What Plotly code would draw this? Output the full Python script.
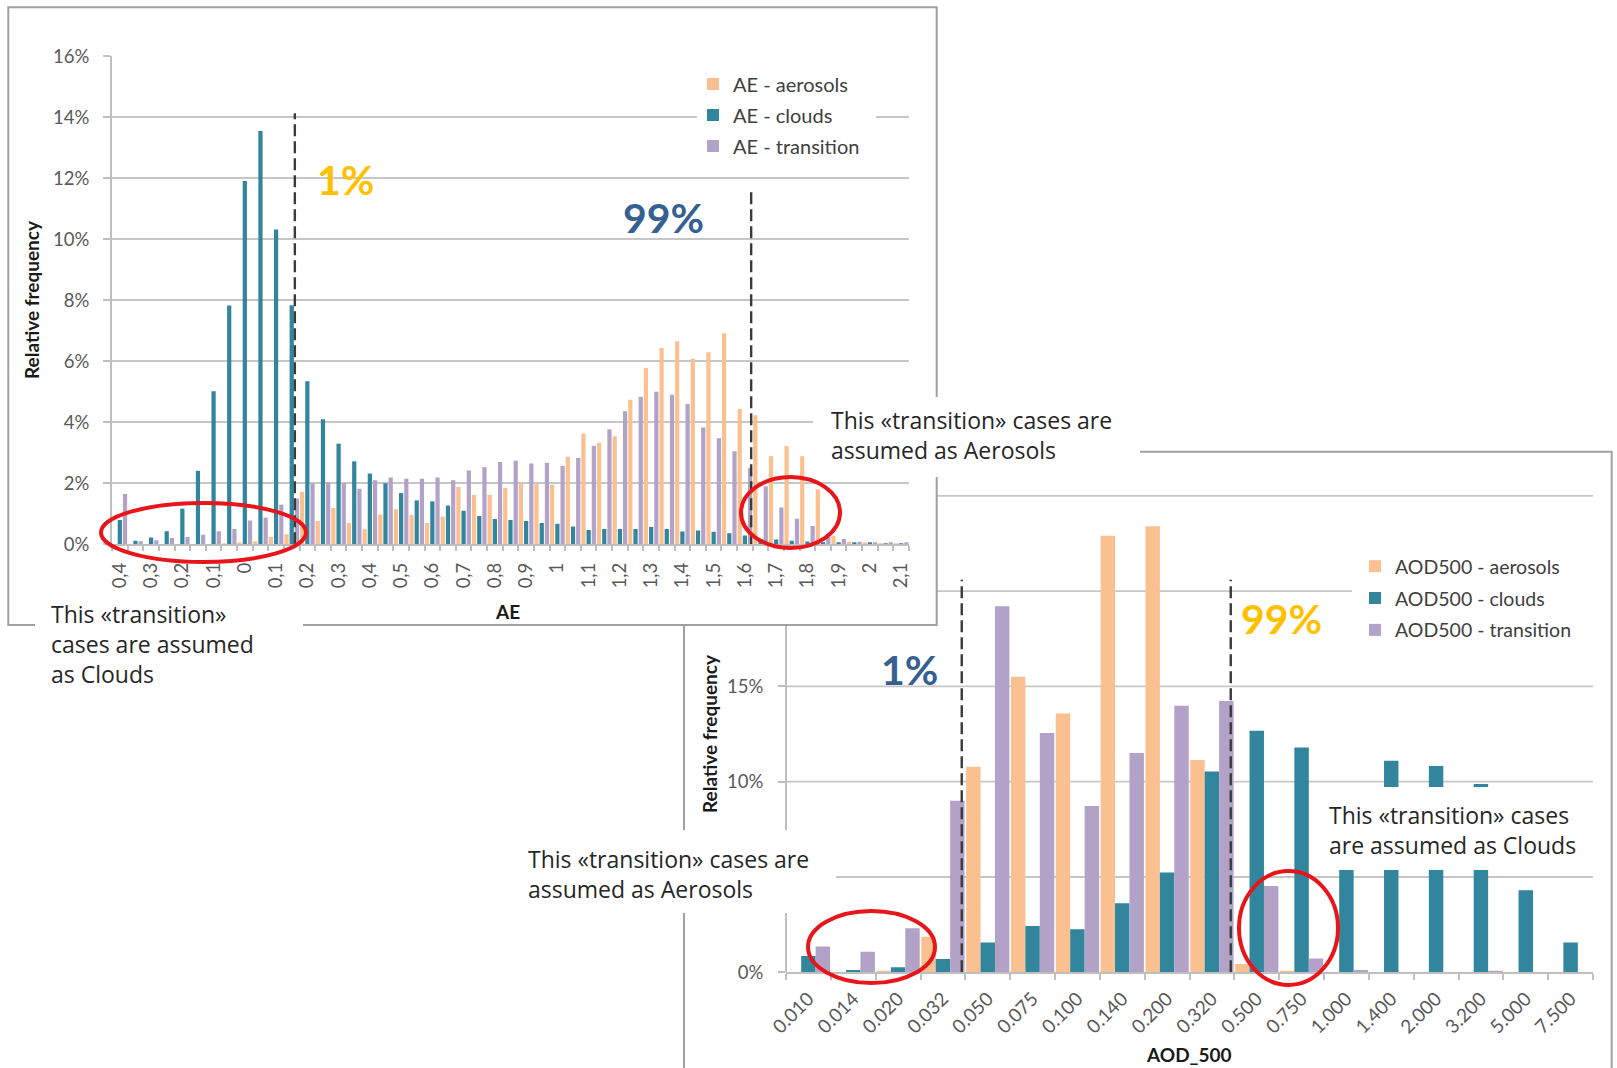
import plotly.graph_objects as go

# ---------------------------------------------------------------------------
# Data
# ---------------------------------------------------------------------------
# Angstrom exponent histogram (bins of 0.05)
AE_BINS = [
    "-0.40", "-0.35", "-0.30", "-0.25", "-0.20", "-0.15", "-0.10", "-0.05",
    "0.00", "0.05", "0.10", "0.15", "0.20", "0.25", "0.30", "0.35", "0.40",
    "0.45", "0.50", "0.55", "0.60", "0.65", "0.70", "0.75", "0.80", "0.85",
    "0.90", "0.95", "1.00", "1.05", "1.10", "1.15", "1.20", "1.25", "1.30",
    "1.35", "1.40", "1.45", "1.50", "1.55", "1.60", "1.65", "1.70", "1.75",
    "1.80", "1.85", "1.90", "1.95", "2.00", "2.05", "2.10",
]
AE_TICKTEXT = [
    "0,4", "", "0,3", "", "0,2", "", "0,1", "", "0", "", "0,1", "", "0,2", "",
    "0,3", "", "0,4", "", "0,5", "", "0,6", "", "0,7", "", "0,8", "", "0,9", "",
    "1", "", "1,1", "", "1,2", "", "1,3", "", "1,4", "", "1,5", "", "1,6", "",
    "1,7", "", "1,8", "", "1,9", "", "2", "", "2,1",
]
AE_AEROSOLS = [
    0, 0, 0, 0, 0, 0, 0, 0.02, 0.05, 0.10, 0.24, 0.33, 1.72, 0.76, 1.19, 0.70,
    0.49, 0.98, 1.15, 0.97, 0.70, 0.91, 1.88, 1.62, 1.62, 1.85, 2.00, 2.00,
    1.95, 2.87, 3.63, 3.33, 3.54, 4.74, 5.78, 6.44, 6.66, 6.08, 6.30, 6.92,
    4.44, 4.23, 2.89, 3.22, 2.89, 1.80, 0.27, 0.08, 0.05, 0.03, 0.02,
]
AE_CLOUDS = [
    0.80, 0.12, 0.22, 0.43, 1.17, 2.41, 5.02, 7.83, 11.91, 13.55, 10.32, 7.84,
    5.35, 4.10, 3.30, 2.72, 2.32, 2.00, 1.68, 1.44, 1.41, 1.27, 1.10, 0.93,
    0.83, 0.80, 0.76, 0.70, 0.67, 0.58, 0.47, 0.50, 0.50, 0.50, 0.57, 0.50,
    0.42, 0.45, 0.41, 0.36, 0.29, 0.17, 0.16, 0.12, 0.09, 0.07, 0.05, 0.04,
    0.04, 0.03, 0.03,
]
AE_TRANSITION = [
    1.65, 0.10, 0.13, 0.21, 0.24, 0.31, 0.43, 0.50, 0.78, 0.88, 1.30, 1.50,
    2.00, 2.03, 2.00, 1.82, 2.10, 2.19, 2.15, 2.15, 2.19, 2.10, 2.42, 2.53,
    2.70, 2.74, 2.65, 2.67, 2.57, 2.83, 3.23, 3.77, 4.36, 4.84, 5.00, 4.90,
    4.60, 3.83, 3.48, 3.05, 2.50, 1.90, 1.21, 0.84, 0.60, 0.25, 0.17, 0.08,
    0.06, 0.05, 0.04,
]
AE_SERIES = ["AE - aerosols", "AE - clouds", "AE - transition"]
AE_P01 = 0.16   # 1st percentile of AE (clouds threshold)
AE_P99 = 1.62   # 99th percentile of AE

# Aerosol optical depth at 500 nm histogram
AOD_BINS = [
    "0.010", "0.014", "0.020", "0.032", "0.050", "0.075", "0.100", "0.140",
    "0.200", "0.320", "0.500", "0.750", "1.000", "1.400", "2.000", "3.200",
    "5.000", "7.500",
]
AOD_AEROSOLS = [0, 0, 0.05, 1.87, 10.78, 15.50, 13.58, 22.90, 23.40, 11.14,
                0.44, 0.03, 0, 0, 0, 0, 0, 0]
AOD_CLOUDS = [0.86, 0.12, 0.26, 0.70, 1.57, 2.43, 2.26, 3.62, 5.23, 10.53,
              12.67, 11.80, 9.60, 11.10, 10.83, 9.88, 4.30, 1.57]
AOD_TRANSITION = [1.35, 1.08, 2.31, 9.00, 19.20, 12.55, 8.73, 11.50, 13.98,
                  14.24, 4.53, 0.73, 0.12, 0, 0, 0.05, 0, 0]
AOD_SERIES = ["AOD500 - aerosols", "AOD500 - clouds", "AOD500 - transition"]
AOD_P01_POS = 3.42   # 1st percentile, as a position along the bin axis
AOD_P99_POS = 9.42   # 99th percentile
AOD_YTICKS = [0, 10, 15]
AOD_YTICKTEXT = ["0%", "10%", "15%"]

AE_YMAX = 16
AOD_YMAX = 25

# ---------------------------------------------------------------------------
# Styling
# ---------------------------------------------------------------------------
W, H = 1617, 1068
C_AER = "#FAC090"
C_CLD = "#31859C"
C_TRN = "#B3A2C7"
GRID = "#C6C6C6"
AXIS = "#BFBFBF"
FRAME = "#A0A0A0"
TICK_FONT = dict(family="Lato", size=18.5, color="#595959")
TITLE_FONT = dict(family="Lato", size=19, color="#1A1A1A", weight="bold")
NOTE_FONT = dict(family="Open Sans", size=23, color="#262626")
BIG = 41
YELLOW = "#FFC000"
BLUE = "#366092"
RED = "#E8161B"


def px(x):
    return x / W


def py(y):
    return 1 - y / H


X1_DOM = [px(112), px(909)]
Y1_DOM = [py(544.3), py(56.3)]
X2_DOM = [px(786), px(1593)]
Y2_DOM = [py(972.3), py(495.8)]


def y2_paper(v):
    return Y2_DOM[0] + v / AOD_YMAX * (Y2_DOM[1] - Y2_DOM[0])


def ae_pos(v):
    first = float(AE_BINS[0])
    step = float(AE_BINS[1]) - first
    return (v - first) / step


fig = go.Figure()

# Top-left panel: AE bars, three thin bars per bin spread evenly over the bin
ae_w = 0.27
for name, vals, col, k in zip(AE_SERIES, [AE_AEROSOLS, AE_CLOUDS, AE_TRANSITION],
                              [C_AER, C_CLD, C_TRN], [-1, 0, 1]):
    fig.add_trace(go.Bar(
        x=AE_BINS, y=vals, name=name, marker=dict(color=col, line=dict(width=0)),
        width=ae_w, offset=k / 3 - ae_w / 2, xaxis="x", yaxis="y",
        legend="legend", legendgroup=name,
    ))

# Bottom-right panel: AOD500 bars, touching within each bin
aod_w = 0.322
for name, vals, col, k in zip(AOD_SERIES, [AOD_AEROSOLS, AOD_CLOUDS, AOD_TRANSITION],
                              [C_AER, C_CLD, C_TRN], [-1, 0, 1]):
    fig.add_trace(go.Bar(
        x=AOD_BINS, y=vals, name=name, marker=dict(color=col, line=dict(width=0)),
        width=aod_w, offset=k * aod_w - aod_w / 2, xaxis="x2", yaxis="y2",
        legend="legend2", legendgroup=name,
    ))

shapes = []
# --- lower layer: bottom-right panel frame and its grid, then the top-left
#     panel frame which sits over it
shapes.append(dict(type="rect", xref="paper", yref="paper", layer="below",
                   x0=px(684), x1=px(1611.7), y0=py(1090), y1=py(451.7),
                   fillcolor="white", line=dict(color=FRAME, width=2)))
for v in [5, 10, 15, 20, 25]:
    shapes.append(dict(type="line", xref="paper", yref="paper", layer="below",
                       x0=X2_DOM[0], x1=X2_DOM[1], y0=y2_paper(v), y1=y2_paper(v),
                       line=dict(color=GRID, width=1.8)))
shapes.append(dict(type="line", xref="paper", yref="paper", layer="below",
                   x0=X2_DOM[0], x1=X2_DOM[0], y0=Y2_DOM[0], y1=Y2_DOM[1],
                   line=dict(color=AXIS, width=2)))
shapes.append(dict(type="rect", xref="paper", yref="paper", layer="below",
                   x0=px(8.3), x1=px(936.7), y0=py(625), y1=py(7.3),
                   fillcolor="white", line=dict(color=FRAME, width=2)))

# --- percentile markers
DASH = dict(color="#3A3A3A", width=2.4, dash="12px,5px")
for pos, top in [(ae_pos(AE_P01), 14.13), (ae_pos(AE_P99), 11.56)]:
    shapes.append(dict(type="line", xref="x", yref="y", layer="above",
                       x0=pos, x1=pos, y0=0, y1=top, line=DASH))
for pos in [AOD_P01_POS, AOD_P99_POS]:
    shapes.append(dict(type="line", xref="x2", yref="y2", layer="above",
                       x0=pos, x1=pos, y0=0, y1=20.6, line=DASH))

# --- white backgrounds behind the legends and the notes
for x0, x1, y0, y1 in [(697, 876, 68, 163), (1352, 1600, 538, 658),
                       (813, 1140, 397, 477), (35, 303, 595, 700),
                       (521, 836, 830, 913), (1322, 1600, 787, 870)]:
    shapes.append(dict(type="rect", xref="paper", yref="paper", layer="above",
                       x0=px(x0), x1=px(x1), y0=py(y1), y1=py(y0),
                       fillcolor="white", line=dict(width=0)))

# --- red ellipses around the re-assigned transition cases
for x0, x1, y0, y1 in [(101, 306, 503, 562), (741, 840, 477, 548),
                       (808, 935, 911, 983), (1239, 1338, 871, 985)]:
    shapes.append(dict(type="circle", xref="paper", yref="paper", layer="above",
                       x0=px(x0), x1=px(x1), y0=py(y1), y1=py(y0),
                       line=dict(color=RED, width=4)))

annotations = []


def note(x, y, text, font=NOTE_FONT, xanchor="left", **kw):
    annotations.append(dict(xref="paper", yref="paper", x=px(x), y=py(y),
                            text=text, showarrow=False, font=font,
                            xanchor=xanchor, yanchor="middle", align="left", **kw))


note(828.5, 435, "This «transition» cases are<br>assumed as Aerosols")
note(48.5, 644, "This «transition»<br>cases are assumed<br>as Clouds")
note(526, 874, "This «transition» cases are<br>assumed as Aerosols")
note(1327, 830, "This «transition» cases<br>are assumed as Clouds")

big_y = dict(family="Lato", size=BIG, color=YELLOW, weight="bold")
big_b = dict(family="Lato", size=BIG, color=BLUE, weight="bold")
note(345.5, 180, "1%", font=big_y, xanchor="center")
note(663, 217.5, "99%", font=big_b, xanchor="center")
note(909, 669.5, "1%", font=big_b, xanchor="center")
note(1281.5, 618.5, "99%", font=big_y, xanchor="center")

note(31, 300, "Relative frequency", font=TITLE_FONT, xanchor="center", textangle=-90)
note(709, 734, "Relative frequency", font=TITLE_FONT, xanchor="center", textangle=-90)
note(507, 611, "AE", font=TITLE_FONT, xanchor="center")
note(1188.5, 1054, "AOD_500", font=TITLE_FONT, xanchor="center")

LEGEND_STYLE = dict(bgcolor="rgba(0,0,0,0)", borderwidth=0, xanchor="left",
                    yanchor="top", traceorder="grouped")

fig.update_layout(
    width=W, height=H, autosize=False,
    margin=dict(l=0, r=0, t=0, b=0, pad=0, autoexpand=False),
    paper_bgcolor="white", plot_bgcolor="rgba(0,0,0,0)",
    barmode="overlay", hovermode=False, showlegend=True,
    font=dict(family="Lato", color="#595959"),
    xaxis=dict(domain=X1_DOM, anchor="y", type="category",
               categoryorder="array", categoryarray=AE_BINS,
               range=[-0.5, len(AE_BINS) - 0.5],
               tickmode="array", tickvals=AE_BINS, ticktext=AE_TICKTEXT,
               tickangle=-90, tickson="boundaries", ticks="outside", ticklen=5,
               tickwidth=1.5, tickcolor=AXIS, tickfont=TICK_FONT,
               ticklabelstandoff=9, showline=True, linecolor=AXIS, linewidth=2,
               showgrid=False, zeroline=False, fixedrange=True, automargin=False),
    yaxis=dict(domain=Y1_DOM, anchor="x", range=[0, AE_YMAX], dtick=2,
               ticksuffix="%", ticks="outside", ticklen=7, tickwidth=1.5,
               tickcolor=AXIS, tickfont=TICK_FONT, ticklabelstandoff=10,
               showline=True, linecolor=AXIS, linewidth=2,
               showgrid=True, gridcolor=GRID, gridwidth=1.8, zeroline=False,
               fixedrange=True, automargin=False),
    xaxis2=dict(domain=X2_DOM, anchor="y2", type="category",
                categoryorder="array", categoryarray=AOD_BINS,
                range=[-0.5, len(AOD_BINS) - 0.5],
                tickangle=-45, tickson="boundaries", ticks="outside", ticklen=6,
                tickwidth=1.5, tickcolor=AXIS,
                tickfont=dict(family="Lato", size=19, color="#595959"),
                ticklabelstandoff=6, showline=True, linecolor=AXIS, linewidth=2,
                showgrid=False, zeroline=False, fixedrange=True, automargin=False),
    yaxis2=dict(domain=Y2_DOM, anchor="x2", range=[0, AOD_YMAX],
                tickmode="array", tickvals=AOD_YTICKS, ticktext=AOD_YTICKTEXT,
                ticks="outside", ticklen=7, tickwidth=1.5, tickcolor=AXIS,
                tickfont=TICK_FONT, ticklabelstandoff=11,
                showline=False, showgrid=False, zeroline=False, fixedrange=True,
                automargin=False),
    legend=dict(x=px(693), y=py(64.5), tracegroupgap=2,
                font=dict(family="Lato", size=20, color="#404040"), **LEGEND_STYLE),
    legend2=dict(x=px(1355), y=py(547), tracegroupgap=3.5,
                 font=dict(family="Lato", size=19.5, color="#404040"), **LEGEND_STYLE),
    shapes=shapes,
    annotations=annotations,
)

fig.write_html("out.html", config={"displayModeBar": False})
